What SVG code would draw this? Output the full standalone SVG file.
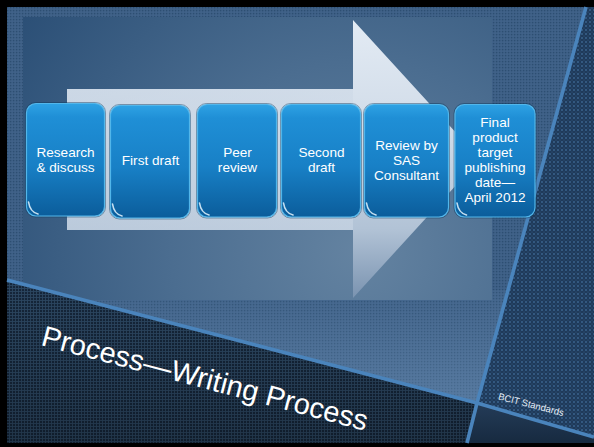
<svg xmlns="http://www.w3.org/2000/svg" width="594" height="447" viewBox="0 0 594 447">
  <style>
    .lbl { font-family: "Liberation Sans", Arial, sans-serif; font-size: 13.6px; fill: #ffffff; text-anchor: middle; }
    .box { fill: url(#boxGrad); stroke: #52b6ea; stroke-width: 1.2; }
    .shade { fill: none; stroke: #0a3a60; stroke-opacity: 0.45; stroke-width: 1; }
    .hl { fill: none; stroke: #e6f6ff; stroke-width: 1.6; stroke-linecap: round; opacity: 0.85; }
    .sep { fill: none; stroke: #4a84bc; stroke-width: 3.6; stroke-linecap: butt; stroke-linejoin: round; }
  </style>
  <defs>
    <linearGradient id="boxGrad" x1="0" y1="0" x2="0" y2="1">
      <stop offset="0" stop-color="#2ea2e4"/>
      <stop offset="0.12" stop-color="#1f8fd6"/>
      <stop offset="0.55" stop-color="#1880c6"/>
      <stop offset="1" stop-color="#0b5d9b"/>
    </linearGradient>
    <linearGradient id="arrowGrad" gradientUnits="userSpaceOnUse" x1="0" y1="20" x2="0" y2="298">
      <stop offset="0" stop-color="#e3ebf4"/>
      <stop offset="0.4" stop-color="#d0dbe8"/>
      <stop offset="0.75" stop-color="#b2c3d6"/>
      <stop offset="1" stop-color="#7a93b0"/>
    </linearGradient>
    <linearGradient id="arrowBody" gradientUnits="userSpaceOnUse" x1="67" y1="0" x2="353" y2="0">
      <stop offset="0" stop-color="#c2d0e0"/>
      <stop offset="1" stop-color="#ccd8e6"/>
    </linearGradient>
    <radialGradient id="panelGrad" gradientUnits="userSpaceOnUse" cx="360" cy="250" r="420">
      <stop offset="0" stop-color="#6483a1"/>
      <stop offset="0.45" stop-color="#4b6d90"/>
      <stop offset="1" stop-color="#2a4e75"/>
    </radialGradient>
    <linearGradient id="dGrad" x1="0" y1="0" x2="0" y2="1">
      <stop offset="0" stop-color="#243c58"/>
      <stop offset="1" stop-color="#172a40"/>
    </linearGradient>
    <linearGradient id="lowGlow" gradientUnits="userSpaceOnUse" x1="0" y1="290" x2="0" y2="400">
      <stop offset="0" stop-color="#8fb4da" stop-opacity="0.05"/>
      <stop offset="1" stop-color="#8fb4da" stop-opacity="0.3"/>
    </linearGradient>
    <pattern id="gridA" width="3" height="3" patternUnits="userSpaceOnUse">
      <rect width="3" height="3" fill="#41638a"/>
      <rect x="0.8" y="0.8" width="1.6" height="1.6" fill="#2d4e72"/>
    </pattern>
    <pattern id="gridB" width="3" height="3" patternUnits="userSpaceOnUse">
      <rect width="3" height="3" fill="#2c4762"/>
      <rect x="0.9" y="0.9" width="2.1" height="2.1" fill="#15263a"/>
    </pattern>
    <pattern id="dotsC" width="4" height="4" patternUnits="userSpaceOnUse">
      <rect width="4" height="4" fill="#1f3a5a"/>
      <circle cx="2" cy="2" r="0.95" fill="#3b6590"/>
      <circle cx="0" cy="0" r="0.6" fill="#335a84"/>
      <circle cx="4" cy="4" r="0.6" fill="#335a84"/>
      <circle cx="0" cy="4" r="0.6" fill="#335a84"/>
      <circle cx="4" cy="0" r="0.6" fill="#335a84"/>
    </pattern>
    <clipPath id="clipA">
      <polygon points="7,7 586,7 477,403 7,280"/>
    </clipPath>
    <linearGradient id="fadeB" x1="0" y1="0" x2="0" y2="1">
      <stop offset="0" stop-color="#000" stop-opacity="0"/>
      <stop offset="1" stop-color="#000" stop-opacity="0.25"/>
    </linearGradient>
  </defs>

  <!-- frame & background -->
  <g id="background">
    <rect x="0" y="0" width="594" height="447" fill="#000000"/>
    <polygon points="7,7 586,7 477,403 7,280" fill="url(#gridA)"/>
    <g clip-path="url(#clipA)">
      <rect x="7" y="290" width="500" height="115" fill="url(#lowGlow)"/>
      <rect x="23" y="17" width="469" height="283" fill="url(#panelGrad)"/>
    </g>
    <polygon points="7,280 477,403 466,443 7,443" fill="url(#gridB)"/>
    <polygon points="7,280 477,403 466,443 7,443" fill="url(#fadeB)"/>
    <polygon points="586,7 594,7 594,437 477,403" fill="url(#dotsC)"/>
    <polygon points="477,403 594,437 594,443 466,443" fill="url(#dGrad)"/>
    <polyline class="sep" points="7,280 477,403 594,437"/>
    <polyline class="sep" points="586,7 477,403 467,443"/>
  </g>

  <!-- big flow arrow -->
  <g id="flow-arrow">
    <polygon points="67,89 353,89 353,20 480,159 353,298 353,230 67,230" fill="url(#arrowGrad)"/>
    <rect x="67" y="89" width="286" height="141" fill="url(#arrowBody)" opacity="0.55"/>
  </g>

  <g id="connectors"></g>

  <g id="node-research">
    <rect class="shade" x="25.5" y="102.5" width="80" height="114.5" rx="10"/>
    <rect class="box" x="26.5" y="103.5" width="78" height="112.5" rx="9.5"/>
    <path class="hl" d="M28.5,202 Q30,212 38,214"/>
    <text class="lbl" x="65.5" y="157">Research</text>
    <text class="lbl" x="65.5" y="172">&amp; discuss</text>
  </g>

  <g id="node-first-draft">
    <rect class="shade" x="109.5" y="104.5" width="81" height="114.5" rx="10"/>
    <rect class="box" x="110.5" y="105.5" width="79" height="112.5" rx="9.5"/>
    <path class="hl" d="M112.5,204 Q114,214 122,216"/>
    <text class="lbl" x="150.5" y="165">First draft</text>
  </g>

  <g id="node-peer-review">
    <rect class="shade" x="196.5" y="103.5" width="81" height="114.5" rx="10"/>
    <rect class="box" x="197.5" y="104.5" width="79" height="112.5" rx="9.5"/>
    <path class="hl" d="M199.5,203 Q201,213 209,215"/>
    <text class="lbl" x="237.5" y="157">Peer</text>
    <text class="lbl" x="237.5" y="172">review</text>
  </g>

  <g id="node-second-draft">
    <rect class="shade" x="280.5" y="103.5" width="81" height="114.5" rx="10"/>
    <rect class="box" x="281.5" y="104.5" width="79" height="112.5" rx="9.5"/>
    <path class="hl" d="M283.5,203 Q285,213 293,215"/>
    <text class="lbl" x="321.5" y="157">Second</text>
    <text class="lbl" x="321.5" y="172">draft</text>
  </g>

  <g id="node-sas-review">
    <rect class="shade" x="363.5" y="103.5" width="86" height="114.5" rx="10"/>
    <rect class="box" x="364.5" y="104.5" width="84" height="112.5" rx="9.5"/>
    <path class="hl" d="M366.5,203 Q368,213 376,215"/>
    <text class="lbl" x="406.5" y="149.5">Review by</text>
    <text class="lbl" x="406.5" y="164.5">SAS</text>
    <text class="lbl" x="406.5" y="179.5">Consultant</text>
  </g>

  <g id="node-final">
    <rect class="shade" x="454" y="103.5" width="82" height="114.5" rx="10"/>
    <rect class="box" x="455" y="104.5" width="80" height="112.5" rx="9.5"/>
    <path class="hl" d="M457,203 Q458.5,213 466.5,215"/>
    <text class="lbl" x="495" y="127.3">Final</text>
    <text class="lbl" x="495" y="142.2">product</text>
    <text class="lbl" x="495" y="157.1">target</text>
    <text class="lbl" x="495" y="172">publishing</text>
    <text class="lbl" x="495" y="186.9">date—</text>
    <text class="lbl" x="495" y="201.8">April 2012</text>
  </g>

  <g id="title">
    <text transform="translate(40,345) rotate(14.8)" font-family="Liberation Sans, Arial, sans-serif" font-size="29" fill="#ffffff">Process—Writing Process</text>
  </g>

  <g id="footer">
    <text transform="translate(497.7,399.3) rotate(14.5)" font-family="Liberation Sans, Arial, sans-serif" font-size="9.5" fill="#e6edf5">BCIT Standards</text>
  </g>
</svg>
